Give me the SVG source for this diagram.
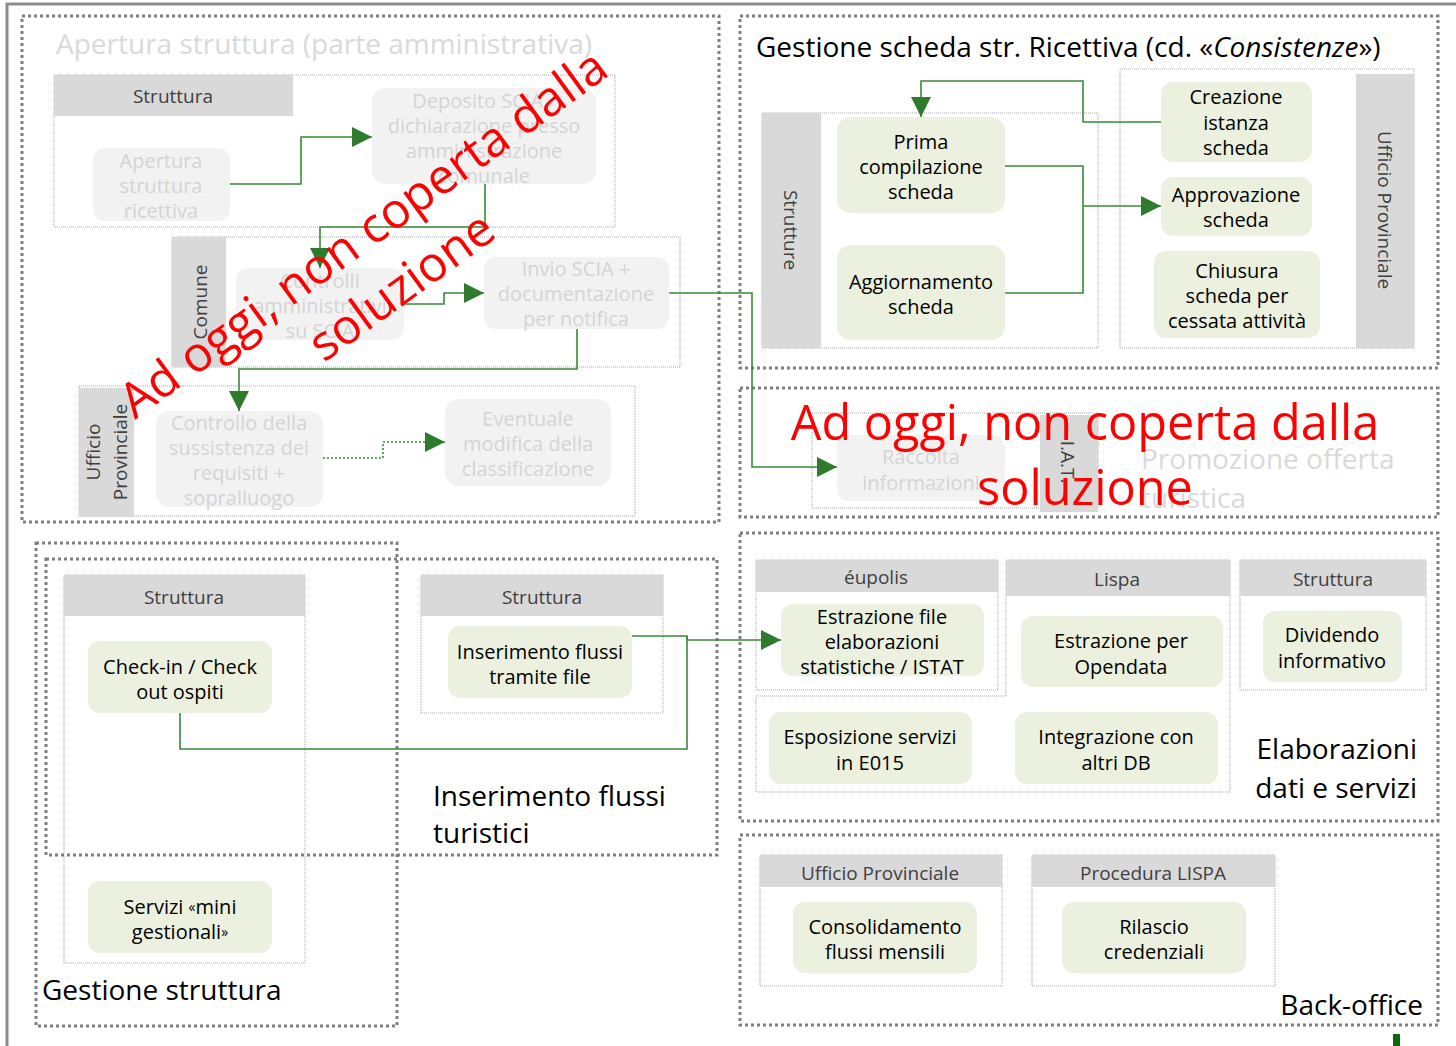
<svg xmlns="http://www.w3.org/2000/svg" width="1456" height="1046" viewBox="0 0 1456 1046">
<style>
.frame{fill:none;stroke:#7f7f7f;stroke-width:3;stroke-dasharray:3 3}
.lane{fill:none;stroke:#a6a6a6;stroke-width:1;stroke-dasharray:1 1}
.hdr{fill:#d9d9d9}
.node{fill:#ebf1de}
.off{fill:#f2f2f2}
.t{font-family:"Open Sans",sans-serif;font-size:20px;fill:#000;text-anchor:middle;dominant-baseline:central}
.toff{fill:#d4d4d4}
.h{font-family:"Open Sans",sans-serif;font-size:19px;fill:#404040;text-anchor:middle;dominant-baseline:central}
.lbl{font-family:"Open Sans",sans-serif;font-size:28px;fill:#000}
.lbloff{fill:#d9d9d9}
.conn{fill:none;stroke:#3a8a36;stroke-width:1.6}
.dot{stroke-dasharray:2 2}
.red{font-family:"Open Sans",sans-serif;font-size:48.6px;fill:#ff0000;text-anchor:middle;dominant-baseline:central}
</style>
<defs>
<marker id="ah" markerWidth="20" markerHeight="20" refX="20" refY="10" orient="auto" markerUnits="userSpaceOnUse">
<path d="M0,0 L20,10 L0,20 z" fill="#2e7b2e"/>
</marker>
</defs>
<rect width="1456" height="1046" fill="#fff"/>

<!-- Box A: Apertura struttura -->
<g id="box-apertura">
<rect class="frame" x="22" y="16" width="697" height="506"/>
<text class="lbl lbloff" x="56" y="54">Apertura struttura (parte amministrativa)</text>
<rect class="lane" x="54" y="75" width="561" height="152"/>
<rect class="hdr" x="54" y="75" width="239" height="41"/>
<text class="h" x="173" y="96">Struttura</text>
<rect class="lane" x="172" y="237" width="508" height="130"/>
<rect class="hdr" x="172" y="237" width="54" height="130"/>
<text class="h" transform="translate(200,302) rotate(-90)">Comune</text>
<rect class="lane" x="79" y="386" width="556" height="130"/>
<rect class="hdr" x="79" y="388" width="55" height="129"/>
<text class="h" transform="translate(93,452) rotate(-90)">Ufficio</text>
<text class="h" transform="translate(120,452) rotate(-90)">Provinciale</text>
</g>
<g id="n-apertura-ricettiva">
<rect class="off" x="93" y="148" width="137" height="73" rx="12"/>
<text class="t toff" x="161" y="160">Apertura</text>
<text class="t toff" x="161" y="185">struttura</text>
<text class="t toff" x="161" y="210">ricettiva</text>
</g>
<g id="n-deposito">
<rect class="off" x="372" y="88" width="224" height="96" rx="14"/>
<text class="t toff" x="484" y="100">Deposito SCIA /</text>
<text class="t toff" x="484" y="125">dichiarazione presso</text>
<text class="t toff" x="484" y="150">amministrazione</text>
<text class="t toff" x="484" y="175">comunale</text>
</g>
<g id="n-controlli">
<rect class="off" x="236" y="268" width="168" height="72" rx="12"/>
<text class="t toff" x="320" y="280">Controlli</text>
<text class="t toff" x="320" y="305">amministrativi</text>
<text class="t toff" x="320" y="330">su SCIA</text>
</g>
<g id="n-invio">
<rect class="off" x="484" y="257" width="185" height="72" rx="12"/>
<text class="t toff" x="576" y="268">Invio SCIA +</text>
<text class="t toff" x="576" y="293">documentazione</text>
<text class="t toff" x="576" y="318">per notifica</text>
</g>
<g id="n-controllo-requisiti">
<rect class="off" x="156" y="411" width="167" height="96" rx="14"/>
<text class="t toff" x="239" y="422">Controllo della</text>
<text class="t toff" x="239" y="447">sussistenza dei</text>
<text class="t toff" x="239" y="472">requisiti +</text>
<text class="t toff" x="239" y="497">sopralluogo</text>
</g>
<g id="n-eventuale">
<rect class="off" x="445" y="399" width="166" height="87" rx="14"/>
<text class="t toff" x="528" y="418">Eventuale</text>
<text class="t toff" x="528" y="443">modifica della</text>
<text class="t toff" x="528" y="468">classificazione</text>
</g>

<!-- Box B: Gestione scheda -->
<g id="box-gestione-scheda">
<rect class="frame" x="740" y="16" width="698" height="352"/>
<text class="lbl" x="756" y="57">Gestione scheda str. Ricettiva (cd. «<tspan font-style="italic">Consistenze</tspan>»)</text>
<rect class="lane" x="762" y="113" width="336" height="235"/>
<rect class="hdr" x="762" y="113" width="59" height="235"/>
<text class="h" transform="translate(791,230) rotate(90)">Strutture</text>
<rect class="lane" x="1120" y="69" width="294" height="279"/>
<rect class="hdr" x="1356" y="74" width="58" height="274"/>
<text class="h" transform="translate(1385,210) rotate(90)">Ufficio Provinciale</text>
</g>
<g id="n-prima">
<rect class="node" x="837" y="117" width="168" height="96" rx="14"/>
<text class="t" x="921" y="141">Prima</text>
<text class="t" x="921" y="166">compilazione</text>
<text class="t" x="921" y="191">scheda</text>
</g>
<g id="n-aggiornamento">
<rect class="node" x="837" y="245" width="168" height="95" rx="14"/>
<text class="t" x="921" y="281">Aggiornamento</text>
<text class="t" x="921" y="306">scheda</text>
</g>
<g id="n-creazione">
<rect class="node" x="1161" y="82" width="151" height="80" rx="12"/>
<text class="t" x="1236" y="96">Creazione</text>
<text class="t" x="1236" y="122">istanza</text>
<text class="t" x="1236" y="147">scheda</text>
</g>
<g id="n-approvazione">
<rect class="node" x="1161" y="177" width="151" height="59" rx="12"/>
<text class="t" x="1236" y="194">Approvazione</text>
<text class="t" x="1236" y="219">scheda</text>
</g>
<g id="n-chiusura">
<rect class="node" x="1154" y="251" width="166" height="87" rx="12"/>
<text class="t" x="1237" y="270">Chiusura</text>
<text class="t" x="1237" y="295">scheda per</text>
<text class="t" x="1237" y="320">cessata attività</text>
</g>

<!-- Box C: Promozione -->
<g id="box-promozione">
<rect class="frame" x="740" y="388" width="698" height="129"/>
<text class="lbl lbloff" x="1141" y="469">Promozione offerta</text>
<text class="lbl lbloff" x="1141" y="508">turistica</text>
<rect class="lane" x="812" y="413" width="286" height="95"/>
<rect class="hdr" x="1040" y="415" width="58" height="97"/>
<text class="h" transform="translate(1068,462) rotate(90)">I.A.T.</text>
</g>
<g id="n-raccolta">
<rect class="off" x="837" y="435" width="168" height="66" rx="12"/>
<text class="t toff" x="921" y="456">Raccolta</text>
<text class="t toff" x="921" y="482">informazioni</text>
</g>

<!-- Box D/E: Gestione struttura, Inserimento flussi -->
<g id="box-gestione-struttura">
<rect class="frame" x="36" y="543" width="361" height="483"/>
<text class="lbl" x="42" y="1000">Gestione struttura</text>
<rect class="lane" x="64" y="575" width="241" height="388"/>
<rect class="hdr" x="64" y="575" width="241" height="41"/>
<text class="h" x="184" y="597">Struttura</text>
</g>
<g id="box-inserimento">
<rect class="frame" x="46" y="559" width="671" height="296"/>
<text class="lbl" x="433" y="806">Inserimento flussi</text>
<text class="lbl" x="433" y="843">turistici</text>
<rect class="lane" x="421" y="575" width="242" height="138"/>
<rect class="hdr" x="421" y="575" width="242" height="41"/>
<text class="h" x="542" y="597">Struttura</text>
</g>
<g id="n-checkin">
<rect class="node" x="88" y="641" width="184" height="72" rx="12"/>
<text class="t" x="180" y="666">Check-in / Check</text>
<text class="t" x="180" y="691">out ospiti</text>
</g>
<g id="n-servizi">
<rect class="node" x="88" y="881" width="184" height="72" rx="12"/>
<text class="t" x="180" y="906">Servizi <tspan font-size="14">«</tspan>mini</text>
<text class="t" x="180" y="931">gestionali<tspan font-size="14">»</tspan></text>
</g>
<g id="n-inserimento-file">
<rect class="node" x="448" y="626" width="184" height="72" rx="12"/>
<text class="t" x="540" y="651">Inserimento flussi</text>
<text class="t" x="540" y="676">tramite file</text>
</g>

<!-- Box F: Elaborazioni -->
<g id="box-elaborazioni">
<rect class="frame" x="740" y="533" width="698" height="288"/>
<text class="lbl" x="1417" y="759" text-anchor="end">Elaborazioni</text>
<text class="lbl" x="1417" y="798" text-anchor="end">dati e servizi</text>
<rect class="lane" x="756" y="560" width="242" height="130"/>
<rect class="hdr" x="756" y="560" width="242" height="32"/>
<text class="h" x="876" y="577">éupolis</text>
<path class="lane" d="M1006,560 H1230 V792 H756 V696 H1006 Z"/>
<rect class="hdr" x="1006" y="560" width="224" height="36"/>
<text class="h" x="1117" y="579">Lispa</text>
<rect class="lane" x="1240" y="560" width="186" height="130"/>
<rect class="hdr" x="1240" y="560" width="186" height="36"/>
<text class="h" x="1333" y="579">Struttura</text>
</g>
<g id="n-estrazione-file">
<rect class="node" x="781" y="604" width="203" height="72" rx="12"/>
<text class="t" x="882" y="616">Estrazione file</text>
<text class="t" x="882" y="641">elaborazioni</text>
<text class="t" x="882" y="666">statistiche / ISTAT</text>
</g>
<g id="n-opendata">
<rect class="node" x="1021" y="616" width="202" height="71" rx="12"/>
<text class="t" x="1121" y="640">Estrazione per</text>
<text class="t" x="1121" y="666">Opendata</text>
</g>
<g id="n-dividendo">
<rect class="node" x="1263" y="611" width="139" height="71" rx="12"/>
<text class="t" x="1332" y="634">Dividendo</text>
<text class="t" x="1332" y="660">informativo</text>
</g>
<g id="n-esposizione">
<rect class="node" x="769" y="712" width="203" height="72" rx="12"/>
<text class="t" x="870" y="736">Esposizione servizi</text>
<text class="t" x="870" y="762">in E015</text>
</g>
<g id="n-integrazione">
<rect class="node" x="1015" y="712" width="203" height="72" rx="12"/>
<text class="t" x="1116" y="736">Integrazione con</text>
<text class="t" x="1116" y="762">altri DB</text>
</g>

<!-- Box G: Back-office -->
<g id="box-backoffice">
<rect class="frame" x="740" y="835" width="698" height="190"/>
<text class="lbl" x="1423" y="1015" text-anchor="end">Back-office</text>
<rect class="lane" x="760" y="855" width="242" height="131"/>
<rect class="hdr" x="760" y="855" width="242" height="32"/>
<text class="h" x="880" y="873">Ufficio Provinciale</text>
<rect class="lane" x="1032" y="855" width="243" height="131"/>
<rect class="hdr" x="1032" y="855" width="243" height="32"/>
<text class="h" x="1153" y="873">Procedura LISPA</text>
</g>
<g id="n-consolidamento">
<rect class="node" x="793" y="902" width="184" height="71" rx="12"/>
<text class="t" x="885" y="926">Consolidamento</text>
<text class="t" x="885" y="951">flussi mensili</text>
</g>
<g id="n-rilascio">
<rect class="node" x="1062" y="902" width="184" height="71" rx="12"/>
<text class="t" x="1154" y="926">Rilascio</text>
<text class="t" x="1154" y="951">credenziali</text>
</g>

<!-- Connectors -->
<g id="connectors">
<path class="conn" d="M230,184 H301 V137 H372" marker-end="url(#ah)"/>
<path class="conn" d="M485,184 V227 H320 V268" marker-end="url(#ah)"/>
<path class="conn" d="M404,304 H444 V293 H484" marker-end="url(#ah)"/>
<path class="conn" d="M669,293 H752 V467 H837" marker-end="url(#ah)"/>
<path class="conn" d="M577,329 V369 H239 V411" marker-end="url(#ah)"/>
<path class="conn dot" d="M323,458 H383 V442 H445" marker-end="url(#ah)"/>
<path class="conn" d="M1161,122 H1083 V81 H921 V117" marker-end="url(#ah)"/>
<path class="conn" d="M1005,166 H1083 V293 H1005"/>
<path class="conn" d="M1083,206 H1161" marker-end="url(#ah)"/>
<path class="conn" d="M632,636 H687 V640 H781" marker-end="url(#ah)"/>
<path class="conn" d="M687,636 V749 H180 V713"/>
</g>

<!-- Red overlays -->
<g id="overlay-left" transform="translate(381,258) rotate(-36)">
<text class="red" x="0" y="-32.5">Ad oggi, non coperta dalla</text>
<text class="red" x="0" y="32.5">soluzione</text>
</g>
<g id="overlay-right">
<text class="red" x="1085" y="421">Ad oggi, non coperta dalla</text>
<text class="red" x="1085" y="486">soluzione</text>
</g>

<!-- Outer frame -->
<path d="M7,1046 V4 H1456" fill="none" stroke="#8c8c8c" stroke-width="3"/>
<rect x="1393" y="1034" width="7" height="12" fill="#0b6b0b"/>
</svg>
